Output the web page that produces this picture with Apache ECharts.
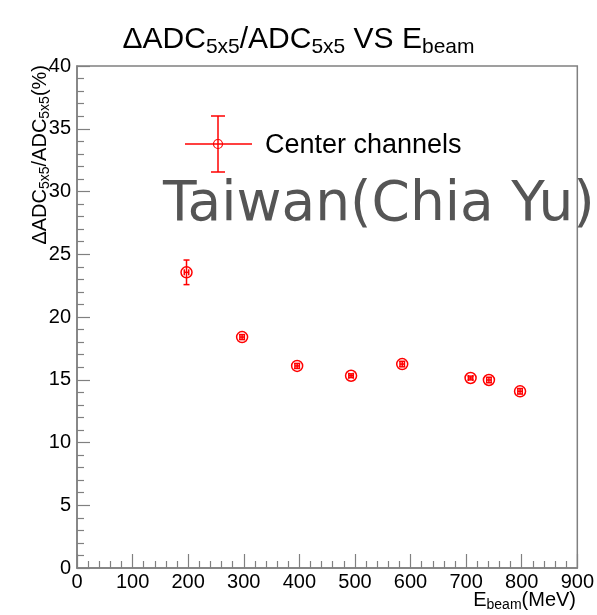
<!DOCTYPE html>
<html>
<head>
<meta charset="utf-8">
<script src="https://cdn.jsdelivr.net/npm/echarts@6/dist/echarts.min.js"></script>
<style>html,body{margin:0;padding:0;background:#fff;}#c{width:597px;height:615px;}</style>
</head>
<body>
<div id="c"></div>
<script>
// ---- data ----
const energy = [197, 297, 396, 493, 585, 708, 741, 797];          // E_beam (MeV)
const resolution = [23.56, 18.4, 16.1, 15.32, 16.25, 15.14, 14.98, 14.08]; // %
const energyErr = [4, 4, 4, 4, 4, 4, 4, 4];
const resolutionErr = [0.98, 0.2, 0.2, 0.15, 0.22, 0.15, 0.22, 0.22];
const xTicks = { min: 0, max: 900, interval: 100 };
const yTicks = { min: 0, max: 40, interval: 5 };
const seriesName = 'Center channels';

const pts = energy.map((e, i) => [e, resolution[i], energyErr[i], resolutionErr[i]]);
const RED = '#ff0000';
const AX = '#808080';
const FONT = '"Liberation Sans", Arial, Helvetica, sans-serif';

function renderErr(params, api) {
  const x = api.value(0), y = api.value(1), ex = api.value(2), ey = api.value(3);
  const l = api.coord([x - ex, y]), r = api.coord([x + ex, y]);
  const t = api.coord([x, y + ey]), b = api.coord([x, y - ey]);
  const cap = 3;
  const st = { stroke: RED, lineWidth: 1.5 };
  return {
    type: 'group',
    children: [
      { type: 'line', shape: { x1: l[0], y1: l[1], x2: r[0], y2: r[1] }, style: st },
      { type: 'line', shape: { x1: t[0], y1: t[1], x2: b[0], y2: b[1] }, style: st },
      { type: 'line', shape: { x1: t[0] - cap, y1: t[1], x2: t[0] + cap, y2: t[1] }, style: st },
      { type: 'line', shape: { x1: b[0] - cap, y1: b[1], x2: b[0] + cap, y2: b[1] }, style: st },
      { type: 'line', shape: { x1: l[0], y1: l[1] - cap, x2: l[0], y2: l[1] + cap }, style: st },
      { type: 'line', shape: { x1: r[0], y1: r[1] - cap, x2: r[0], y2: r[1] + cap }, style: st }
    ]
  };
}

const subRich = (fs, pad) => ({
  m: { fontSize: fs, fontFamily: FONT, fontWeight: 'normal', color: '#000', lineHeight: fs + 8 },
  s: { fontSize: Math.round(fs * 0.7), fontFamily: FONT, fontWeight: 'normal', color: '#000', padding: [pad, 0, 0, 0], lineHeight: fs + 8 }
});

const chart = echarts.init(document.getElementById('c'), null, { renderer: 'canvas' });
chart.setOption({
  animation: false,
  backgroundColor: '#fff',
  title: {
    text: '{m|ΔADC}{s|5x5}{m|/ADC}{s|5x5}{m| VS E}{s|beam}',
    left: 'center', top: 16,
    textStyle: { fontWeight: 'normal', rich: subRich(30, 14) }
  },
  grid: { left: 77, top: 66, right: 19, bottom: 47, show: true, borderColor: AX, borderWidth: 1.5, containLabel: false },
  xAxis: {
    type: 'value', min: xTicks.min, max: xTicks.max, interval: xTicks.interval,
    axisLine: { lineStyle: { color: AX, width: 1.5 } },
    axisTick: { inside: true, length: 14, lineStyle: { color: AX, width: 1.2 } },
    minorTick: { show: true, splitNumber: 5, length: 7, lineStyle: { color: AX, width: 1.2 } },
    splitLine: { show: false },
    axisLabel: { fontSize: 20, fontFamily: FONT, color: '#000', margin: 4, showMaxLabel: true, showMinLabel: true }
  },
  yAxis: {
    type: 'value', min: yTicks.min, max: yTicks.max, interval: yTicks.interval,
    axisLine: { show: true, lineStyle: { color: AX, width: 1.5 } },
    axisTick: { show: true, inside: true, length: 13, lineStyle: { color: AX, width: 1.2 } },
    minorTick: { show: true, splitNumber: 5, length: 7, lineStyle: { color: AX, width: 1.2 } },
    splitLine: { show: false },
    axisLabel: { fontSize: 20, fontFamily: FONT, color: '#000', margin: 6 }
  },
  graphic: [
    {
      type: 'text', x: 40, y: 65, rotation: Math.PI / 2,
      style: { text: '{m|ΔADC}{s|5x5}{m|/ADC}{s|5x5}{m|(%)}', rich: subRich(20, 10), align: 'right', verticalAlign: 'middle' }
    },
    {
      type: 'text', x: 576, y: 600,
      style: { text: '{m|E}{s|beam}{m|(MeV)}', rich: subRich(20, 10), align: 'right', verticalAlign: 'middle' }
    },
    // legend key
    { type: 'line', shape: { x1: 185, y1: 144, x2: 252, y2: 144 }, style: { stroke: RED, lineWidth: 1.5 } },
    { type: 'line', shape: { x1: 218, y1: 116, x2: 218, y2: 172 }, style: { stroke: RED, lineWidth: 1.5 } },
    { type: 'line', shape: { x1: 211, y1: 116, x2: 225, y2: 116 }, style: { stroke: RED, lineWidth: 1.5 } },
    { type: 'line', shape: { x1: 211, y1: 172, x2: 225, y2: 172 }, style: { stroke: RED, lineWidth: 1.5 } },
    { type: 'circle', shape: { cx: 218, cy: 144, r: 4.5 }, style: { stroke: RED, fill: 'none', lineWidth: 1.2 } },
    { type: 'text', x: 265, y: 146, style: { text: seriesName, fontSize: 27, fontFamily: FONT, fill: '#000', verticalAlign: 'middle' } },
    // watermark
    { type: 'text', x: 163, y: 206, z: 100, style: { text: 'Taiwan(Chia Yu)', fontSize: 55, fontFamily: '"DejaVu Sans", sans-serif', fill: '#555', verticalAlign: 'middle' } }
  ],
  series: [
    {
      type: 'scatter', name: seriesName, data: pts.map(p => [p[0], p[1]]),
      symbol: 'circle', symbolSize: 11,
      itemStyle: { color: 'rgba(255,0,0,0)', borderColor: RED, borderWidth: 1.5, opacity: 1 }, z: 2
    },
    {
      type: 'custom', name: seriesName, renderItem: renderErr, data: pts,
      encode: { x: 0, y: 1 }, z: 3
    }
  ]
});
</script>
</body>
</html>
